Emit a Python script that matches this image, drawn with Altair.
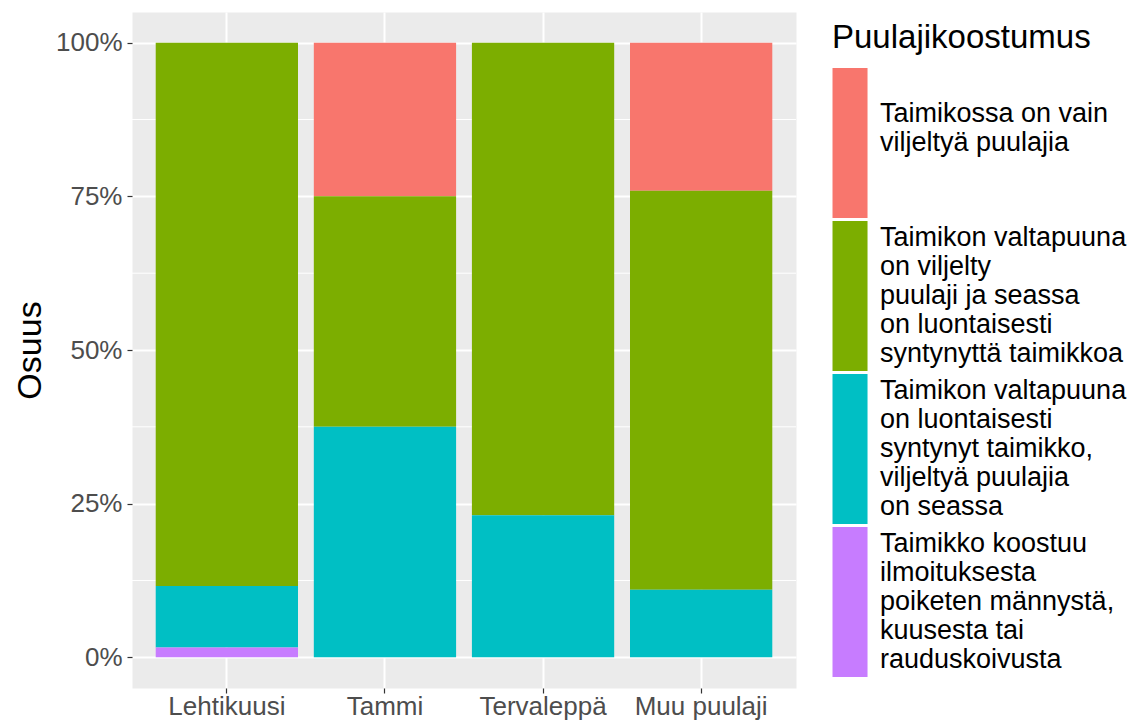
import altair as alt
import pandas as pd

categories = ["Lehtikuusi", "Tammi", "Tervaleppä", "Muu puulaji"]
groups = [
    "\nTaimikossa on vain\nviljeltyä puulajia",
    "Taimikon valtapuuna\non viljelty\npuulaji ja seassa\non luontaisesti\nsyntynyttä taimikkoa",
    "Taimikon valtapuuna\non luontaisesti\nsyntynyt taimikko,\nviljeltyä puulajia\non seassa",
    "Taimikko koostuu\nilmoituksesta\npoiketen männystä,\nkuusesta tai\nrauduskoivusta",
]
colors = ["#F8766D", "#7CAE00", "#00BFC4", "#C77CFF"]
red = [0.0, 0.250, 0.0, 0.241]
green = [0.884, 0.375, 0.769, 0.649]
cyan = [0.100, 0.375, 0.231, 0.110]
purple = [0.016, 0.0, 0.0, 0.0]
y_ticks = [0, 0.25, 0.5, 0.75, 1.0]
minor_ticks = [0.125, 0.375, 0.625, 0.875]

rows = []
for gi, series in enumerate([red, green, cyan, purple]):
    for ci, cat in enumerate(categories):
        rows.append({"cat": cat, "group": groups[gi], "idx": gi, "value": series[ci]})
df = pd.DataFrame(rows)
minor_df = pd.DataFrame({"value": minor_ticks})

FONT = "Liberation Sans"
yscale = alt.Scale(domain=[-0.05, 1.05], nice=False, zero=False)

minor = alt.Chart(minor_df).mark_rule(color="white", strokeWidth=1).encode(
    y=alt.Y("value:Q", scale=yscale, title="Osuus")
)

bars = alt.Chart(df).mark_bar().encode(
    x=alt.X("cat:N", sort=categories, title=None,
            scale=alt.Scale(paddingInner=0.1, paddingOuter=0.15),
            axis=alt.Axis(grid=True, gridColor="white", gridWidth=2, bandPosition=0.5,
                          labelAngle=0, labelFontSize=26, labelColor="#4D4D4D", labelFont=FONT,
                          tickColor="#333333", tickSize=5, tickWidth=1.2, labelPadding=0,
                          domain=False)),
    y=alt.Y("value:Q", stack="zero", scale=yscale, title="Osuus",
            axis=alt.Axis(values=y_ticks, format=".0%", grid=True, gridColor="white", gridWidth=2,
                          labelFontSize=26, labelColor="#4D4D4D", labelFont=FONT,
                          tickColor="#333333", tickSize=5, tickWidth=1.2, labelPadding=5,
                          domain=False, titleFontSize=34, titleFont=FONT, titleColor="black",
                          titleFontWeight="normal", titleX=-102, titleY=338, titleAngle=-90,
                          titleAlign="center", titleBaseline="middle")),
    color=alt.Color("group:N", sort=groups,
                    scale=alt.Scale(domain=groups, range=colors),
                    legend=alt.Legend(title="Puulajikoostumus", orient="none", legendX=700, legendY=10,
                                      titleFontSize=33, titleFont=FONT, titleColor="black",
                                      titleFontWeight="normal", titlePadding=13, titleLimit=400,
                                      symbolType="M-0.97,-1H1.09V7.82H-0.97Z",
                                      symbolSize=1156,
                                      symbolStrokeWidth=0, symbolOpacity=1, rowPadding=3,
                                      labelFontSize=27, labelFont=FONT, labelColor="black",
                                      labelOffset=14, labelLimit=400,
                                      labelExpr="split(datum.label, '\\n')")),
    order=alt.Order("idx:Q", sort="descending"),
)

chart = alt.layer(minor, bars).properties(
    width=664, height=676,
    autosize=alt.AutoSizeParams(type="none"),
    padding={"left": 124, "top": 4, "right": 336, "bottom": 35},
).configure_view(fill="#EBEBEB", stroke="transparent")

chart.save("out.html", embed_options={"renderer": "svg", "actions": False})
